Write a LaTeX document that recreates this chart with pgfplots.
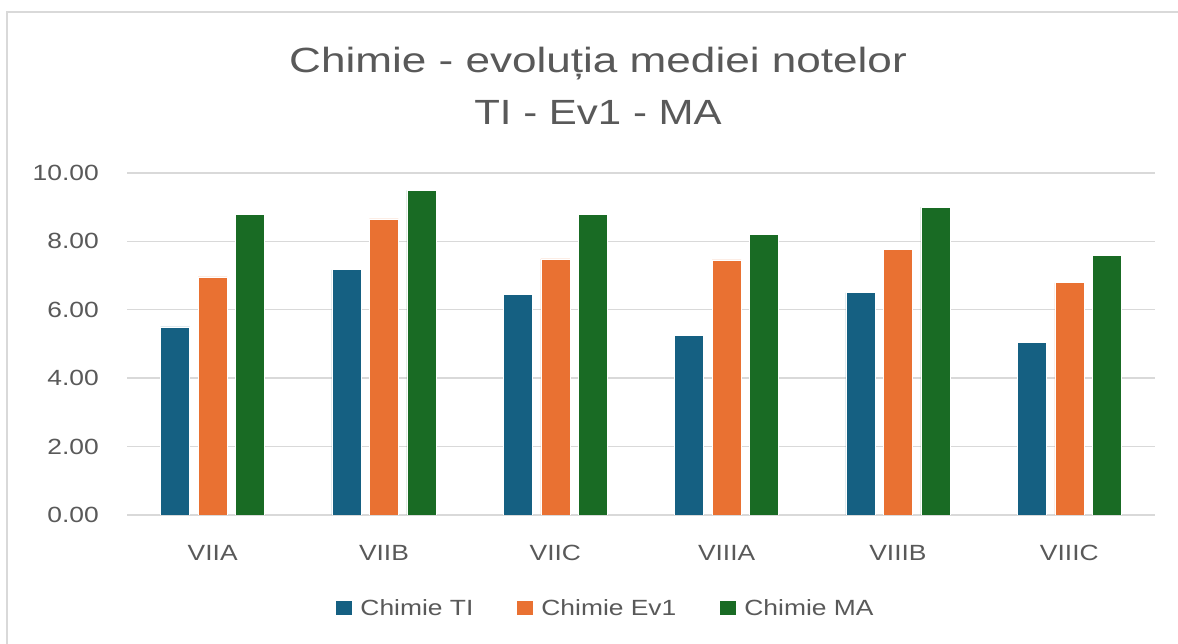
\documentclass[border=0pt]{standalone}
\usepackage{pgfplots}
\pgfplotsset{compat=1.18}
\usepackage{fontspec}
\setmainfont{Liberation Sans}[FakeStretch=1.2]
\newfontfamily\titlefont{Liberation Sans}[FakeStretch=1.26]
\newfontfamily\titlefontb{Liberation Sans}[FakeStretch=1.2]
\definecolor{cTI}{HTML}{156082}
\definecolor{cEV}{HTML}{E97132}
\definecolor{cMA}{HTML}{196B24}
\definecolor{txt}{HTML}{595959}
\definecolor{grd}{HTML}{D9D9D9}
\pgfplotsset{
  sqlegend/.style={legend image code/.code={\fill[##1,draw=none] (0pt,-7pt) rectangle (16pt,7pt);}}
}
\begin{document}
\begin{tikzpicture}[x=1pt,y=1pt]
\useasboundingbox (0,0) rectangle (1178,644);
\fill[white] (0,0) rectangle (1178,644);
\draw[grd, line width=2pt] (7,0) -- (7,632) -- (1178,632);
\node[anchor=base, text=txt, font=\titlefont\fontsize{35}{42}\selectfont] at (598,571) {Chimie - evoluția mediei notelor};
\node[anchor=base, text=txt, font=\titlefontb\fontsize{35}{42}\selectfont] at (598,519) {TI - Ev1 - MA};
\begin{axis}[
  at={(127pt,129pt)}, anchor=south west,
  width=1028pt, height=342pt, scale only axis,
  xmin=-0.5, xmax=5.5, ymin=0, ymax=10,
  ybar=8.5pt, bar width=29pt,
  xtick={0,1,2,3,4,5},
  xticklabels={VIIA,VIIB,VIIC,VIIIA,VIIIB,VIIIC},
  ytick={0,2,4,6,8,10},
  ymajorgrids, major grid style={grd, line width=1.4pt},
  axis line style={draw=none}, tick style={draw=none},
  /pgf/number format/.cd, fixed, fixed zerofill, precision=2, assume math mode=true,
  /pgfplots/.cd,
  tick label style={text=txt, font=\fontsize{22}{26}\selectfont, inner sep=0pt},
  yticklabel style={anchor=east, xshift=-28pt},
  xticklabel style={anchor=north, yshift=-26pt},
  sqlegend,
  legend columns=3,
  legend style={draw=none, fill=none, at={(0.465,-0.272)}, anchor=center,
    font=\fontsize{22}{26}\selectfont, text=txt,
    nodes={inner sep=0pt},
    /tikz/every odd column/.append style={column sep=8pt},
    /tikz/every even column/.append style={column sep=44pt}},
]
\addplot[fill=cTI, draw=white, line width=0.6pt] coordinates {(0,5.50) (1,7.17) (2,6.46) (3,5.26) (4,6.50) (5,5.04)};
\addplot[fill=cEV, draw=white, line width=0.6pt] coordinates {(0,6.96) (1,8.66) (2,7.49) (3,7.46) (4,7.76) (5,6.79)};
\addplot[fill=cMA, draw=white, line width=0.6pt] coordinates {(0,8.78) (1,9.49) (2,8.78) (3,8.21) (4,9.00) (5,7.58)};
\legend{Chimie TI, Chimie Ev1, Chimie MA}
\end{axis}
\end{tikzpicture}
\end{document}
